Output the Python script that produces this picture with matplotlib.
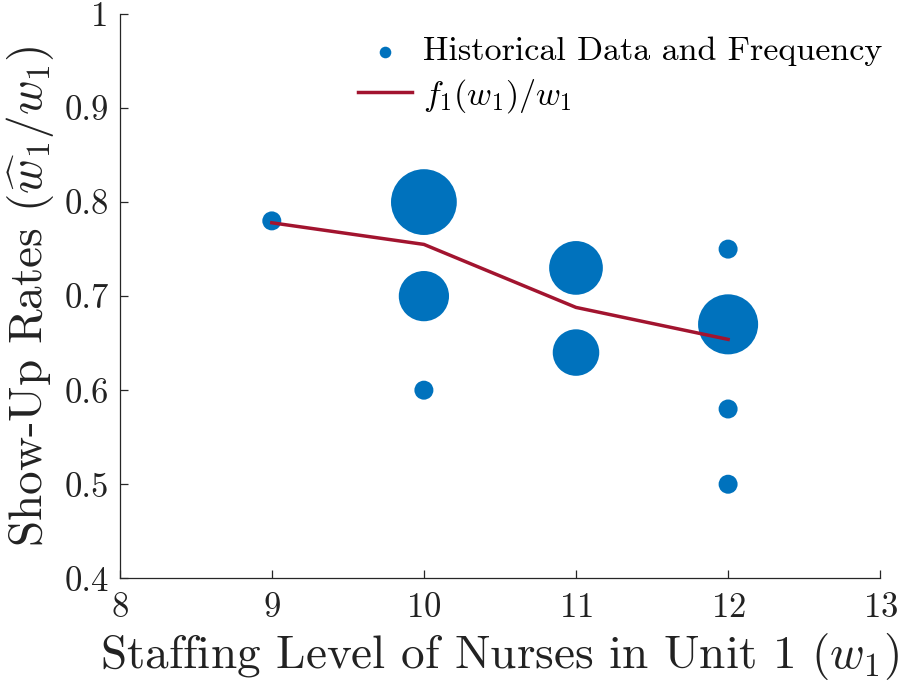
import numpy as np
import matplotlib.pyplot as plt

plt.rcParams['font.family'] = 'cmr10'
plt.rcParams['mathtext.fontset'] = 'cm'
plt.rcParams['axes.formatter.use_mathtext'] = True

# historical data: staffing level, show-up rate, frequency
staff = [9, 10, 10, 10, 11, 11, 12, 12, 12, 12]
rate = [0.78, 0.80, 0.70, 0.60, 0.73, 0.64, 0.75, 0.67, 0.58, 0.50]
freq = [1, 12, 7, 1, 8, 6, 1, 10, 1, 1]

# fitted f1(w1)/w1
w1 = [9, 10, 11, 12]
f_ratio = [0.778, 0.755, 0.688, 0.654]

blue = '#0072BD'
red = '#A2142F'
axc = '#262626'

fig = plt.figure(figsize=(9, 6.89), dpi=100)
ax = fig.add_axes([0.133, 0.1607, 0.845, 0.819])

sc = ax.scatter(staff, rate, s=np.array(freq) * 187, color=blue, linewidths=0,
                label='Historical Data and Frequency', zorder=2)
ax.plot(w1, f_ratio, color=red, lw=2.5, label=r'$f_1(w_1)/w_1$', zorder=3)

ax.set_xlim(8, 13)
ax.set_ylim(0.4, 1.0)
ax.set_xticks([8, 9, 10, 11, 12, 13])
ax.set_yticks([0.4, 0.5, 0.6, 0.7, 0.8, 0.9, 1.0])
ax.set_yticklabels(['0.4', '0.5', '0.6', '0.7', '0.8', '0.9', '1'])

for s in ['top', 'right']:
    ax.spines[s].set_visible(False)
for s in ['left', 'bottom']:
    ax.spines[s].set_color(axc)
    ax.spines[s].set_linewidth(0.9)
ax.tick_params(direction='in', length=6, width=0.9, colors=axc, labelsize=25,
               labelcolor='#222222')
ax.tick_params(axis='x', pad=10)
ax.tick_params(axis='y', pad=8)

ax.set_xlabel(r'Staffing Level of Nurses in Unit 1 $(w_1)$', fontsize=34, color='#222222',
              labelpad=5)
ax.set_ylabel(r'Show-Up Rates $(\widehat{w}_1/w_1)$', fontsize=34, color='#222222',
              labelpad=6)

leg = ax.legend(loc='upper right', frameon=False, fontsize=24.5, handlelength=1.6,
                handletextpad=0.3, borderaxespad=0.0, labelspacing=0.3,
                bbox_to_anchor=(1.02, 0.984))
leg.legend_handles[0].set_sizes([70])

fig.savefig('out.png', dpi=100)
